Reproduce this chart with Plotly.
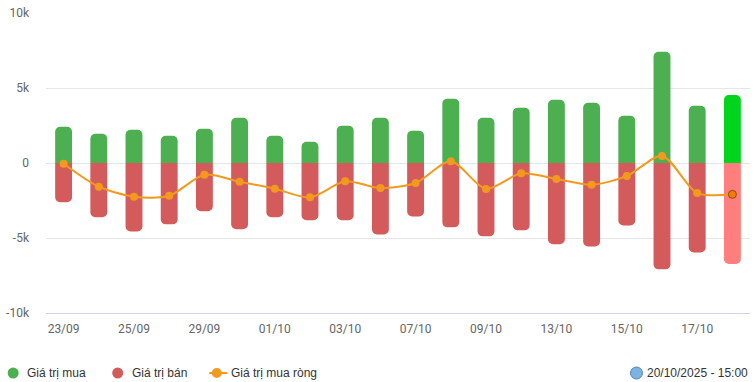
import plotly.graph_objects as go

dates = ["23/09", "24/09", "25/09", "26/09", "29/09", "30/09", "01/10", "02/10", "03/10", "06/10",
         "07/10", "08/10", "09/10", "10/10", "13/10", "14/10", "15/10", "16/10", "17/10", "20/10"]
buy = [2420, 1950, 2220, 1820, 2290, 3020, 1820, 1420, 2490, 3020,
       2150, 4290, 3020, 3690, 4220, 4020, 3150, 7420, 3820, 4530]
sell = [-2620, -3620, -4560, -4090, -3220, -4420, -3620, -3820, -3820, -4760,
        -3560, -4290, -4890, -4490, -5420, -5560, -4160, -7090, -5960, -6730]
net = [-50, -1580, -2250, -2180, -780, -1250, -1710, -2290, -1220, -1670,
       -1330, 110, -1730, -690, -1070, -1450, -870, 470, -2000, -2090]
x_ticks = ["23/09", "25/09", "29/09", "01/10", "03/10", "07/10", "09/10", "13/10", "15/10", "17/10"]
y_ticks = [10000, 5000, 0, -5000, -10000]
y_labels = ["10k", "5k", "0", "-5k", "-10k"]
legend_names = ["Giá trị mua", "Giá trị bán", "Giá trị mua ròng"]
timestamp = "20/10/2025 - 15:00"

GREEN = "#4CAF50"
RED = "#D45B5B"
ORANGE = "#F29A1D"
n = len(dates)
buy_colors = [GREEN] * (n - 1) + ["#00D41C"]
sell_colors = [RED] * (n - 1) + ["#FF7F7F"]
dot_colors = [ORANGE] * (n - 1) + ["#F57C00"]
dot_line = ["rgba(0,0,0,0)"] * (n - 1) + ["#8B4A14"]

L, R, T, B = 43, 6, 13, 69
W, H = 756, 382
PW, PH = W - L - R, H - T - B


def px(x):
    return (x - L) / PW


def py(y):
    return (H - B - y) / PH


fig = go.Figure()
fig.add_trace(go.Bar(x=dates, y=buy, marker=dict(color=buy_colors, line=dict(width=0), cornerradius="35%"),
                     width=0.48, showlegend=False, name=legend_names[0]))
fig.add_trace(go.Bar(x=dates, y=sell, marker=dict(color=sell_colors, line=dict(width=0), cornerradius="35%"),
                     width=0.48, showlegend=False, name=legend_names[1]))
fig.add_trace(go.Scatter(x=dates, y=net, mode="lines+markers",
                         line=dict(color=ORANGE, width=2, shape="spline", smoothing=0.8),
                         marker=dict(size=8, color=dot_colors, line=dict(color=dot_line, width=1)),
                         showlegend=False, name=legend_names[2]))

fig.update_layout(
    width=W, height=H,
    margin=dict(l=L, r=R, t=T, b=B),
    paper_bgcolor="white", plot_bgcolor="white",
    barmode="overlay",
    font=dict(family="Roboto, Arial, sans-serif", size=12, color="#666666"),
    showlegend=False,
)
fig.update_xaxes(type="category", range=[-0.5, n - 0.5], tickvals=x_ticks, ticktext=x_ticks,
                 showgrid=False, showline=True, linecolor="#CCD6EB", linewidth=1, ticks="",
                 ticklabelstandoff=5, tickfont=dict(size=12, color="#666666"), fixedrange=True)
fig.update_yaxes(range=[-10000, 10000], tickvals=y_ticks, ticktext=y_labels, showgrid=True,
                 gridcolor="#E6E6E6", gridwidth=1, zeroline=True, zerolinecolor="#E6E6E6", zerolinewidth=1,
                 showline=False, ticks="", ticklabelstandoff=16, tickfont=dict(size=12, color="#666666"),
                 fixedrange=True)

# manual legend (bottom)
ly = 373
legend_font = dict(family="Arial, Liberation Sans, sans-serif", size=12, color="#333333")
for cx, col in [(10, GREEN), (115, RED)]:
    fig.add_shape(type="circle", xref="paper", yref="paper", x0=px(cx - 5.5), x1=px(cx + 5.5),
                  y0=py(ly + 5.5), y1=py(ly - 5.5), fillcolor=col, line=dict(width=0))
fig.add_shape(type="line", xref="paper", yref="paper", x0=px(207), x1=px(225), y0=py(ly), y1=py(ly),
              line=dict(color=ORANGE, width=2))
fig.add_shape(type="circle", xref="paper", yref="paper", x0=px(209.5), x1=px(219.5),
              y0=py(ly + 5), y1=py(ly - 5), fillcolor=ORANGE, line=dict(width=0))
for tx, name in zip([22, 127, 227], legend_names):
    fig.add_annotation(text=name, xref="paper", yref="paper", x=px(tx), xanchor="left",
                       y=py(ly), yanchor="middle", showarrow=False, font=legend_font)

fig.add_shape(type="circle", xref="paper", yref="paper", x0=px(630), x1=px(642),
              y0=py(379), y1=py(367), fillcolor="#7FB2E0", line=dict(color="#4A86C5", width=1))
fig.add_annotation(text=timestamp, xref="paper", yref="paper", x=px(750), xanchor="right",
                   y=py(ly), yanchor="middle", showarrow=False, font=legend_font)

fig.write_html("out.html", config={"displayModeBar": False},
               post_script="document.body.style.margin='0';")
